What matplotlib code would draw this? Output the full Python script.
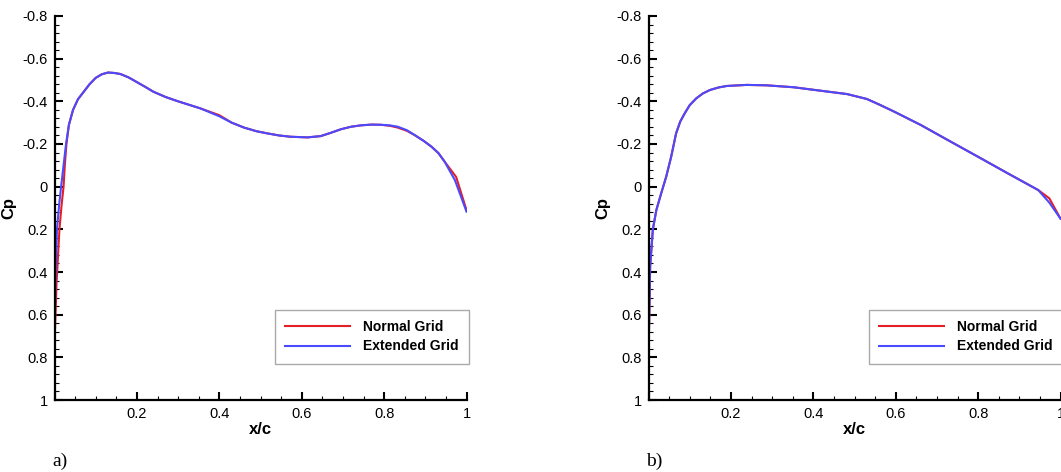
import numpy as np
import matplotlib
matplotlib.use("Agg")
import matplotlib.pyplot as plt
from matplotlib.ticker import MultipleLocator, FuncFormatter

plt.rcParams['font.family'] = ['Liberation Sans', 'DejaVu Sans']
plt.rcParams['axes.unicode_minus'] = False

# case a)
xa_ext = [0.0, 0.002, 0.006, 0.011, 0.016, 0.022, 0.028, 0.035, 0.045, 0.057, 0.069, 0.085, 0.10,
          0.115, 0.13, 0.145, 0.16, 0.18, 0.20, 0.22, 0.24, 0.27, 0.30, 0.354, 0.40, 0.43, 0.46,
          0.49, 0.516, 0.545, 0.573, 0.614, 0.646, 0.67, 0.695, 0.72, 0.744, 0.77, 0.793, 0.815,
          0.833, 0.855, 0.874, 0.895, 0.915, 0.932, 0.947, 0.972, 1.0]
cpa_ext = [0.72, 0.45, 0.20, 0.09, 0.0, -0.10, -0.20, -0.29, -0.36, -0.41, -0.44, -0.48, -0.51,
           -0.527, -0.535, -0.533, -0.528, -0.512, -0.49, -0.468, -0.445, -0.42, -0.40, -0.367, -0.33,
           -0.30, -0.277, -0.26, -0.25, -0.24, -0.234, -0.231, -0.237, -0.252, -0.269, -0.281,
           -0.2875, -0.291, -0.29, -0.287, -0.281, -0.265, -0.242, -0.216, -0.1875, -0.157, -0.117,
           -0.03, 0.117]
xa_norm = [0.0, 0.005, 0.012, 0.017, 0.022, 0.025, 0.029, 0.035, 0.045, 0.057, 0.069, 0.085, 0.10,
           0.115, 0.13, 0.145, 0.16, 0.18, 0.20, 0.22, 0.24, 0.27, 0.30, 0.354, 0.40, 0.43, 0.46,
           0.49, 0.516, 0.545, 0.573, 0.614, 0.646, 0.67, 0.695, 0.72, 0.744, 0.77, 0.793, 0.815,
           0.833, 0.855, 0.874, 0.895, 0.915, 0.932, 0.947, 0.975, 1.0]
cpa_norm = [0.74, 0.45, 0.20, 0.09, 0.0, -0.10, -0.20, -0.29, -0.36, -0.41, -0.44, -0.48, -0.51,
            -0.527, -0.535, -0.533, -0.528, -0.512, -0.49, -0.468, -0.445, -0.42, -0.40, -0.367, -0.335,
            -0.30, -0.277, -0.26, -0.25, -0.24, -0.234, -0.231, -0.237, -0.252, -0.269, -0.281,
            -0.2875, -0.291, -0.29, -0.285, -0.277, -0.262, -0.242, -0.216, -0.1875, -0.157, -0.117,
            -0.045, 0.11]

# case b)
xb_ext = [0.0, 0.004, 0.0106, 0.019, 0.031, 0.043, 0.055, 0.067, 0.077, 0.088, 0.10, 0.116, 0.132,
          0.149, 0.17, 0.19, 0.238, 0.287, 0.352, 0.417, 0.482, 0.53, 0.56, 0.596, 0.661, 0.726,
          0.80, 0.872, 0.946, 0.973, 1.0]
cpb_ext = [0.80, 0.375, 0.20, 0.11, 0.03, -0.047, -0.14, -0.25, -0.305, -0.344, -0.382, -0.414,
           -0.437, -0.453, -0.465, -0.472, -0.477, -0.475, -0.466, -0.45, -0.434, -0.411, -0.385,
           -0.352, -0.289, -0.219, -0.14, -0.0625, 0.016, 0.075, 0.15]
xb_norm = xb_ext
cpb_norm = [0.80, 0.375, 0.20, 0.11, 0.03, -0.047, -0.14, -0.25, -0.305, -0.344, -0.382, -0.414,
            -0.437, -0.453, -0.465, -0.472, -0.477, -0.475, -0.466, -0.45, -0.434, -0.411, -0.385,
            -0.352, -0.289, -0.219, -0.14, -0.0625, 0.016, 0.055, 0.15]

labels = ["Normal Grid", "Extended Grid"]
red = '#e41e26'
blue = '#4a4aff'

fig = plt.figure(figsize=(10.61, 4.72), dpi=100)
ax1 = fig.add_axes([54.5 / 1061, 72 / 472, 412 / 1061, 384 / 472])
ax2 = fig.add_axes([648.5 / 1061, 72 / 472, 412 / 1061, 384 / 472])


def style(ax, xs, ys, caption):
    ax.plot(xs[0], ys[0], color=red, lw=1.5, label=labels[0])
    ax.plot(xs[1], ys[1], color=blue, lw=1.5, label=labels[1])
    ax.set_xlim(0, 1)
    ax.set_ylim(1, -0.8)
    for s in ['top', 'right']:
        ax.spines[s].set_visible(False)
    for s in ['left', 'bottom']:
        ax.spines[s].set_linewidth(1.6)
    ax.xaxis.set_major_locator(MultipleLocator(0.2))
    ax.xaxis.set_minor_locator(MultipleLocator(0.05))
    ax.yaxis.set_major_locator(MultipleLocator(0.2))
    ax.yaxis.set_minor_locator(MultipleLocator(0.04))
    ax.xaxis.set_major_formatter(FuncFormatter(lambda v, p: '' if abs(v) < 1e-9 else '%g' % round(v, 2)))
    ax.yaxis.set_major_formatter(FuncFormatter(lambda v, p: '%g' % round(v, 2)))
    ax.tick_params(which='major', direction='in', length=6, width=1.5, labelsize=10.5, pad=5)
    ax.tick_params(which='minor', direction='in', length=3, width=0.8)
    ax.set_xlabel('x/c', fontsize=12, fontweight='bold', labelpad=1)
    ax.set_ylabel('Cp', fontsize=12, fontweight='bold')
    ax.yaxis.set_label_coords(-0.092, 0.5)
    leg = ax.legend(loc='lower right', bbox_to_anchor=(1.006, 0.094),
                    prop={'weight': 'bold', 'size': 10}, fancybox=False, framealpha=1,
                    edgecolor='#aaaaaa', handlelength=4.7, handletextpad=0.9,
                    labelspacing=0.4, borderpad=0.75, borderaxespad=0)
    leg.get_frame().set_linewidth(1.0)
    ax.text(-0.005, -0.16, caption, transform=ax.transAxes, fontsize=14,
            family=['Liberation Serif', 'DejaVu Serif'], va='center', ha='left')
    ax.patch.set_alpha(0)


style(ax1, [xa_norm, xa_ext], [cpa_norm, cpa_ext], 'a)')
style(ax2, [xb_norm, xb_ext], [cpb_norm, cpb_ext], 'b)')

fig.savefig('out.png', dpi=100)
